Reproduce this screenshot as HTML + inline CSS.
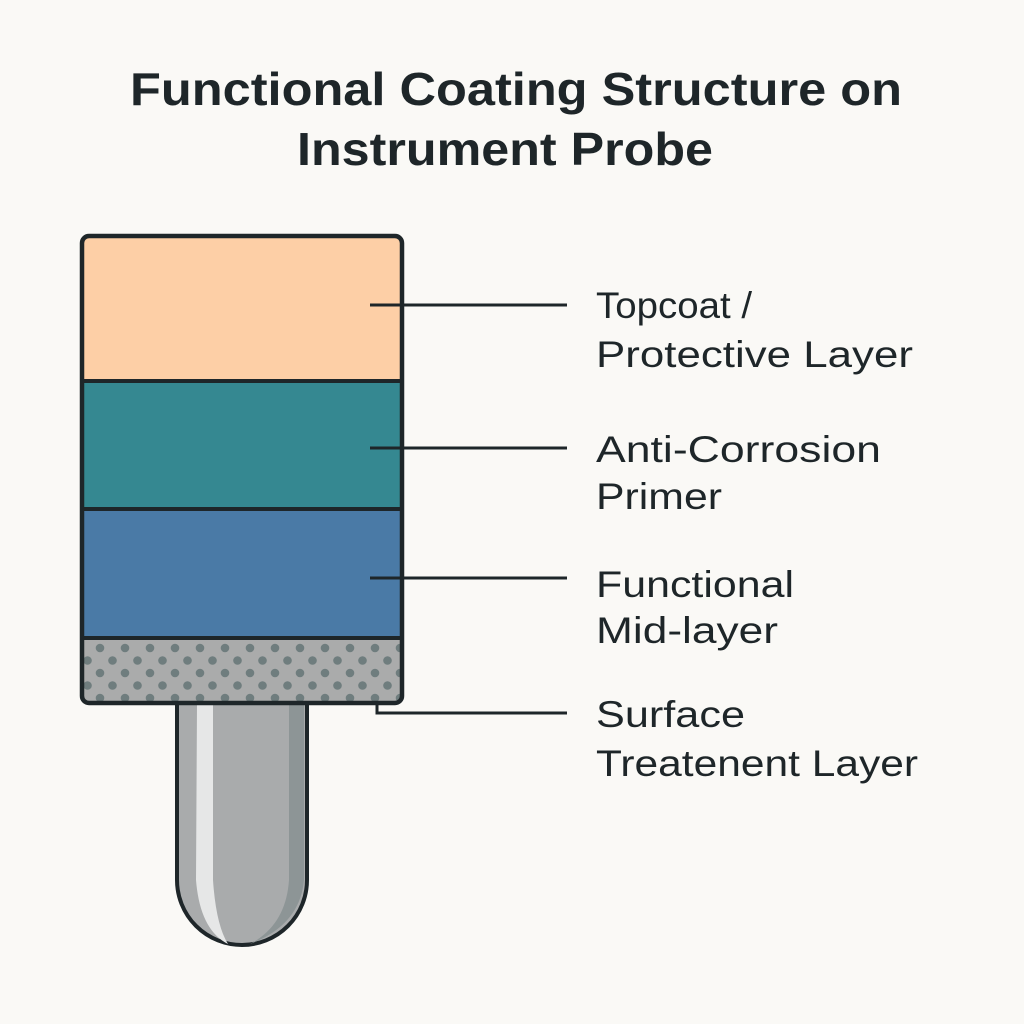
<!DOCTYPE html>
<html><head><meta charset="utf-8"><style>
html,body{margin:0;padding:0;background:#faf9f6;}
svg{display:block}
</style></head><body>
<svg width="1024" height="1024" viewBox="0 0 1024 1024" xmlns="http://www.w3.org/2000/svg">
<defs>
<pattern id="dots" x="0" y="0" width="25" height="25" patternUnits="userSpaceOnUse" patternTransform="translate(80,636)">
<circle cx="20" cy="12" r="4.3" fill="#6f7d7e"/>
<circle cx="7.5" cy="24.5" r="4.3" fill="#6f7d7e"/>
<circle cx="7.5" cy="-0.5" r="4.3" fill="#6f7d7e"/>
</pattern>
<clipPath id="boxclip"><rect x="82" y="236" width="320" height="467" rx="7"/></clipPath>
</defs>
<rect width="1024" height="1024" fill="#faf9f6"/>
<g font-family="Liberation Sans, sans-serif" fill="#1e2629">
<text x="516" y="105" font-size="46" font-weight="bold" text-anchor="middle" textLength="772" lengthAdjust="spacingAndGlyphs">Functional Coating Structure on</text>
<text x="505" y="165" font-size="46" font-weight="bold" text-anchor="middle" textLength="416" lengthAdjust="spacingAndGlyphs">Instrument Probe</text>
</g>
<path d="M177 700 L177 880 A65 65 0 0 0 307 880 L307 700 Z" fill="#a9abac" stroke="#1e2629" stroke-width="4"/>
<path d="M197 704 L213 704 L213 880 Q216 925 228 944 Q200 930 196 880 Z" fill="#e6e7e7"/>
<path d="M289 704 L304 704 L304 880 Q300 925 250 944 Q286 925 289 880 Z" fill="#8d9596"/>
<g clip-path="url(#boxclip)">
<rect x="80" y="234" width="324" height="148" fill="#fdcfa6"/>
<rect x="80" y="382" width="324" height="127" fill="#358891"/>
<rect x="80" y="509" width="324" height="129" fill="#4a7aa6"/>
<rect x="80" y="638" width="324" height="67" fill="#aaabab"/>
<rect x="80" y="638" width="324" height="67" fill="url(#dots)"/>
</g>
<line x1="80" y1="381" x2="404" y2="381" stroke="#1e2629" stroke-width="4"/>
<line x1="80" y1="509" x2="404" y2="509" stroke="#1e2629" stroke-width="4"/>
<line x1="80" y1="638" x2="404" y2="638" stroke="#1e2629" stroke-width="4"/>
<rect x="82" y="236" width="320" height="467" rx="7" fill="none" stroke="#1e2629" stroke-width="4.5"/>
<g stroke="#1e2629" stroke-width="3" fill="none">
<line x1="370" y1="305" x2="567" y2="305"/>
<line x1="370" y1="448" x2="567" y2="448"/>
<line x1="370" y1="578" x2="567" y2="578"/>
<polyline points="377,704 377,713 567,713"/>
</g>
<g font-family="Liberation Sans, sans-serif" font-size="37" fill="#1e2629">
<text x="596" y="318" textLength="156" lengthAdjust="spacingAndGlyphs">Topcoat /</text>
<text x="596" y="367" textLength="317" lengthAdjust="spacingAndGlyphs">Protective Layer</text>
<text x="596" y="462" textLength="285" lengthAdjust="spacingAndGlyphs">Anti-Corrosion</text>
<text x="596" y="509" textLength="126" lengthAdjust="spacingAndGlyphs">Primer</text>
<text x="596" y="597" textLength="198" lengthAdjust="spacingAndGlyphs">Functional</text>
<text x="596" y="643" textLength="182" lengthAdjust="spacingAndGlyphs">Mid-layer</text>
<text x="596" y="727" textLength="149" lengthAdjust="spacingAndGlyphs">Surface</text>
<text x="596" y="776" textLength="322" lengthAdjust="spacingAndGlyphs">Treatenent Layer</text>
</g>
</svg>
</body></html>
